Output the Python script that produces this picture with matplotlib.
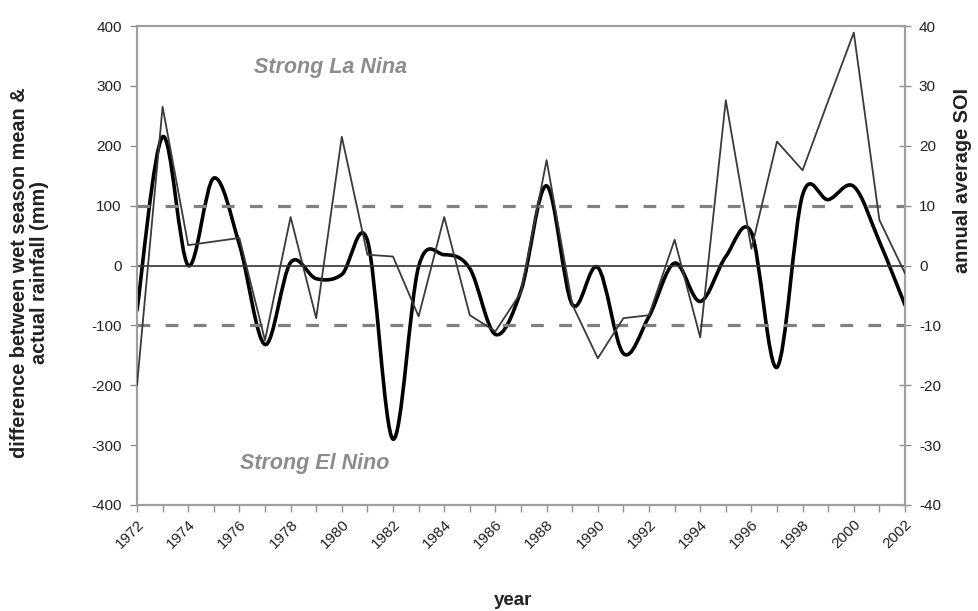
import matplotlib
matplotlib.use("Agg")
import matplotlib.pyplot as plt
from matplotlib.path import Path
from matplotlib.patches import PathPatch
from matplotlib.ticker import MultipleLocator, FixedLocator
import numpy as np

plt.rcParams['font.family'] = ['Liberation Sans', 'DejaVu Sans']

years = list(range(1972, 2003))
rainfall_diff = [-200, 265, 34, 40, 46, -125, 81, -88, 215, 18, 15, -85, 81, -83,
                 -110, -45, 176, -65, -155, -88, -83, 43, -120, 276, 28, 207, 159,
                 275, 389, 76, -13]
soi = [-7.5, 21.5, 0.0, 14.6, 3.5, -13.2, 0.5, -2.2, -1.5, 4.2, -29.0, -0.2, 1.8,
       -0.5, -11.5, -4.2, 13.3, -6.5, -0.3, -14.7, -8.5, 0.4, -6.0, 1.5, 5.5,
       -17.0, 11.8, 11.0, 13.2, 4.0, -6.6]
label_years = list(range(1972, 2003, 2))
left_ticks = list(range(-400, 401, 100))
right_ticks = list(range(-40, 41, 10))


def smooth_path(x, y):
    P = np.column_stack([x, y]).astype(float)
    n = len(P)
    verts = [tuple(P[0])]
    codes = [Path.MOVETO]
    for i in range(n - 1):
        p0 = P[i - 1] if i > 0 else P[i]
        p1 = P[i]
        p2 = P[i + 1]
        p3 = P[i + 2] if i + 2 < n else P[i + 1]
        c1 = p1 + (p2 - p0) / 6.0
        c2 = p2 - (p3 - p1) / 6.0
        verts += [tuple(c1), tuple(c2), tuple(p2)]
        codes += [Path.CURVE4] * 3
    return Path(verts, codes)


fig = plt.figure(figsize=(9.79, 6.11), dpi=100)
ax = fig.add_axes([137 / 979, 1 - 505 / 611, (905 - 137) / 979, (505 - 26) / 611])
ax2 = ax.twinx()

ax.set_xlim(years[0], years[-1])
ax.set_ylim(-400, 400)
ax2.set_ylim(-40, 40)

# reference lines
ax.axhline(0, color='#333333', lw=1.2, zorder=2)
for v in (100, -100):
    ax.axhline(v, color='#808080', lw=2.3, dashes=(4, 4.8), zorder=2)

# thin line (rainfall)
ax.plot(years, rainfall_diff, color='#3a3a3a', lw=1.3, zorder=3)

# thick smoothed line (SOI)
patch = PathPatch(smooth_path(years, soi), fill=False, edgecolor='black',
                  lw=2.6, transform=ax2.transData, zorder=4, capstyle='round',
                  joinstyle='round')
ax2.add_patch(patch)

# ticks
ax.xaxis.set_major_locator(FixedLocator(label_years))
ax.xaxis.set_minor_locator(MultipleLocator(1))
ax.set_xticklabels([str(y) for y in label_years], rotation=45, ha='right',
                   rotation_mode='anchor', fontsize=11, color='#222222')
ax.tick_params(axis='x', which='both', length=5, width=1, color='#909090',
               direction='out', pad=4)
ax.set_yticks(left_ticks)
ax.set_yticklabels([str(v) for v in left_ticks], fontsize=11, color='#222222')
ax.tick_params(axis='y', length=5, width=1, color='#909090', direction='out', pad=6)
ax2.set_yticks(right_ticks)
ax2.set_yticklabels([str(v) for v in right_ticks], fontsize=11, color='#222222')
ax2.tick_params(axis='y', length=8, width=1, color='#909090', direction='inout', pad=6)

for a in (ax, ax2):
    for s in a.spines.values():
        s.set_color('#a0a0a0')
        s.set_linewidth(1.5)

ax.set_ylabel('difference between wet season mean &\nactual rainfall (mm)',
              fontsize=14.3, fontweight='bold', color='#222222', linespacing=1.05)
ax.yaxis.set_label_coords(-0.115, 0.486)
ax2.set_ylabel('annual average SOI', fontsize=14.3, fontweight='bold',
               color='#222222', rotation=90)
ax2.yaxis.set_label_coords(1.062, 0.678)
ax.set_xlabel('year', fontsize=13.5, fontweight='bold', color='#222222')
ax.xaxis.set_label_coords(0.49, -0.182)

ax.text(1979.54, 330, 'Strong La Nina', fontsize=15.5, fontweight='bold', style='italic',
        color='#8c8c8c', ha='center', va='center', zorder=5)
ax.text(1978.95, -330, 'Strong El Nino', fontsize=15.5, fontweight='bold', style='italic',
        color='#8c8c8c', ha='center', va='center', zorder=5)

ax.set_zorder(ax2.get_zorder() + 1)
ax.patch.set_visible(False)

fig.savefig('out.png', dpi=100)
